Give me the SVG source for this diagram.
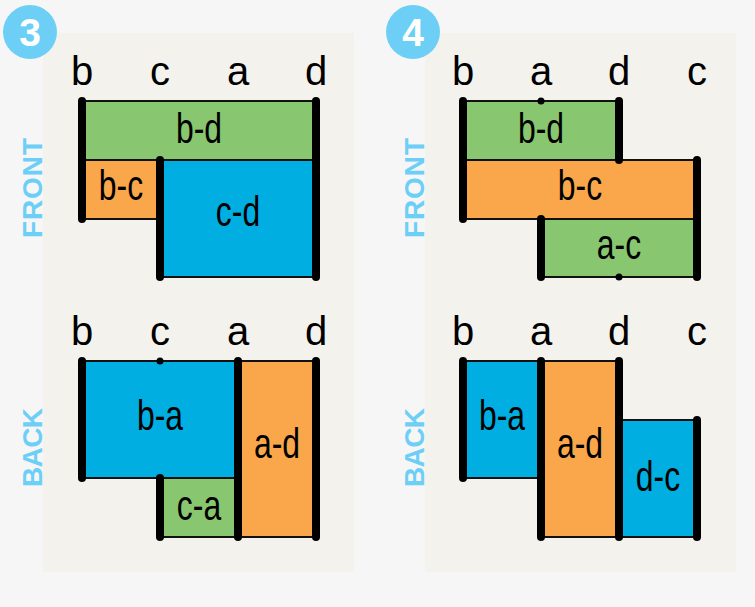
<svg xmlns="http://www.w3.org/2000/svg" width="755" height="607" viewBox="0 0 755 607">
<style>
.panel{fill:#f4f2ed}
.badge{fill:#6dcff6}
.num{font-family:"Liberation Sans",Arial,sans-serif;font-weight:bold;font-size:39px;fill:#fff;text-anchor:middle}
.side{font-family:"Liberation Sans",Arial,sans-serif;font-weight:bold;font-size:28px;fill:#6dcff6;text-anchor:middle}
.col{font-family:"Liberation Sans",Arial,sans-serif;font-size:40px;fill:#000;text-anchor:middle}
.lbl{font-family:"Liberation Sans",Arial,sans-serif;font-size:42px;fill:#000;text-anchor:middle}
.g{fill:#88c76f;stroke:#111;stroke-width:2}
.o{fill:#f9a74a;stroke:#111;stroke-width:2}
.b{fill:#00aee2;stroke:#111;stroke-width:2}
.bar{stroke:#000;stroke-width:8;stroke-linecap:round}
.tick{fill:#000}
</style>
<rect width="755" height="607" fill="#f6f6f6"/>
<rect class="panel" x="43" y="33" width="311" height="539"/>
<rect class="panel" x="425" y="33" width="311" height="539"/>
<g id="badge3"><circle class="badge" cx="30" cy="32" r="27"/><text class="num" x="30" y="46">3</text></g>
<g id="badge4"><circle class="badge" cx="413" cy="32" r="27"/><text class="num" x="413" y="46">4</text></g>
<text class="side" transform="translate(42,188) rotate(-90)" textLength="100" lengthAdjust="spacing">FRONT</text>
<text class="side" transform="translate(42,447.5) rotate(-90)" textLength="79" lengthAdjust="spacing">BACK</text>
<text class="side" transform="translate(424,188) rotate(-90)" textLength="100" lengthAdjust="spacing">FRONT</text>
<text class="side" transform="translate(424,447.5) rotate(-90)" textLength="79" lengthAdjust="spacing">BACK</text>
<g id="cols">
<text class="col" x="82" y="85">b</text><text class="col" x="160" y="85">c</text><text class="col" x="238" y="85">a</text><text class="col" x="316" y="85">d</text>
<text class="col" x="82" y="345">b</text><text class="col" x="160" y="345">c</text><text class="col" x="238" y="345">a</text><text class="col" x="316" y="345">d</text>
<text class="col" x="463" y="85">b</text><text class="col" x="541" y="85">a</text><text class="col" x="619" y="85">d</text><text class="col" x="697" y="85">c</text>
<text class="col" x="463" y="345">b</text><text class="col" x="541" y="345">a</text><text class="col" x="619" y="345">d</text><text class="col" x="697" y="345">c</text>
</g>
<g id="p3-front-bd"><rect class="g" x="82" y="101" width="234" height="59"/><text class="lbl" transform="translate(199,143) scale(0.76,1)">b-d</text></g>
<g id="p3-front-bc"><rect class="o" x="82" y="160" width="78" height="59"/><text class="lbl" transform="translate(121,200) scale(0.76,1)">b-c</text></g>
<g id="p3-front-cd"><rect class="b" x="160" y="160" width="156" height="117"/><text class="lbl" transform="translate(238,226) scale(0.76,1)">c-d</text></g>
<g id="p3-back-ba"><rect class="b" x="82" y="361" width="156" height="117"/><text class="lbl" transform="translate(160,430) scale(0.76,1)">b-a</text></g>
<g id="p3-back-ca"><rect class="g" x="160" y="478" width="78" height="59"/><text class="lbl" transform="translate(199,520) scale(0.76,1)">c-a</text></g>
<g id="p3-back-ad"><rect class="o" x="238" y="361" width="78" height="176"/><text class="lbl" transform="translate(277,458) scale(0.76,1)">a-d</text></g>
<g id="p4-front-bd"><rect class="g" x="463" y="101" width="156" height="59"/><text class="lbl" transform="translate(541,143) scale(0.76,1)">b-d</text></g>
<g id="p4-front-bc"><rect class="o" x="463" y="160" width="234" height="59"/><text class="lbl" transform="translate(580,200) scale(0.76,1)">b-c</text></g>
<g id="p4-front-ac"><rect class="g" x="541" y="219" width="156" height="58"/><text class="lbl" transform="translate(619,259) scale(0.76,1)">a-c</text></g>
<g id="p4-back-ba"><rect class="b" x="463" y="361" width="78" height="117"/><text class="lbl" transform="translate(502,430) scale(0.76,1)">b-a</text></g>
<g id="p4-back-ad"><rect class="o" x="541" y="361" width="78" height="176"/><text class="lbl" transform="translate(580,458) scale(0.76,1)">a-d</text></g>
<g id="p4-back-dc"><rect class="b" x="619" y="420" width="78" height="117"/><text class="lbl" transform="translate(658,491) scale(0.76,1)">d-c</text></g>
<g id="connectors">
<line class="bar" x1="82" y1="101" x2="82" y2="219"/>
<line class="bar" x1="160" y1="160" x2="160" y2="277"/>
<line class="bar" x1="316" y1="101" x2="316" y2="277"/>
<line class="bar" x1="82" y1="361" x2="82" y2="478"/>
<line class="bar" x1="160" y1="478" x2="160" y2="537"/>
<circle class="tick" cx="160" cy="361" r="3.5"/>
<line class="bar" x1="238" y1="361" x2="238" y2="537"/>
<line class="bar" x1="316" y1="361" x2="316" y2="537"/>
<line class="bar" x1="463" y1="101" x2="463" y2="219"/>
<line class="bar" x1="541" y1="219" x2="541" y2="277"/>
<circle class="tick" cx="541" cy="101" r="3.5"/>
<line class="bar" x1="619" y1="101" x2="619" y2="160"/>
<circle class="tick" cx="619" cy="277" r="3.5"/>
<line class="bar" x1="697" y1="160" x2="697" y2="277"/>
<line class="bar" x1="463" y1="361" x2="463" y2="478"/>
<line class="bar" x1="541" y1="361" x2="541" y2="537"/>
<line class="bar" x1="619" y1="361" x2="619" y2="537"/>
<line class="bar" x1="697" y1="420" x2="697" y2="537"/>
</g>
</svg>
